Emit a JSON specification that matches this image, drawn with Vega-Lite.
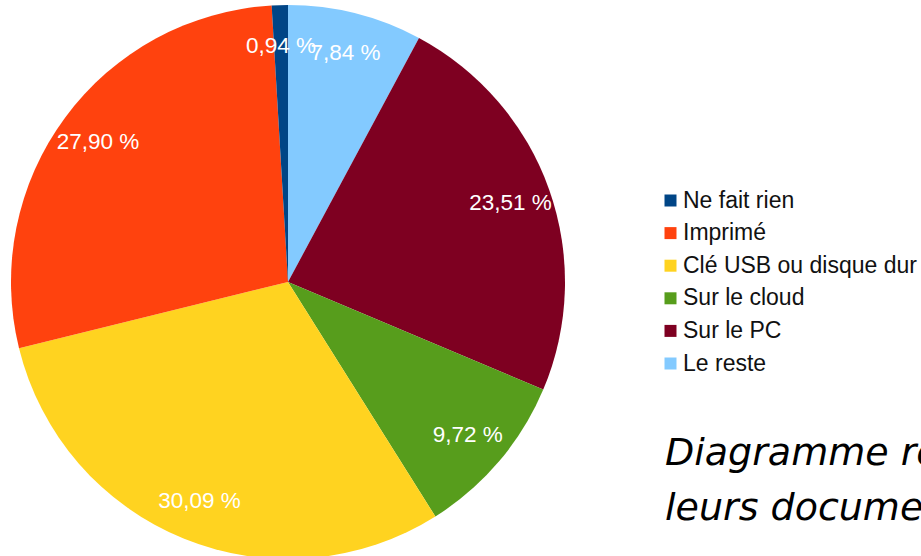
{
  "$schema": "https://vega.github.io/schema/vega-lite/v6.json",
  "width": 554,
  "height": 554,
  "autosize": {"type": "none"},
  "padding": {"left": 11, "top": 5, "right": 356, "bottom": -3},
  "background": "white",
  "config": {"view": {"stroke": null}},
  "title": {
    "text": ["Diagramme représentant où les élèves enregistrent", "leurs documents"],
    "orient": "bottom",
    "anchor": "start",
    "frame": "group",
    "baseline": "alphabetic",
    "offset": 0,
    "dx": 654,
    "dy": -94,
    "font": "DejaVu Sans",
    "fontSize": 38,
    "fontStyle": "italic",
    "fontWeight": "normal",
    "color": "#000000",
    "lineHeight": 55
  },
  "data": {
    "values": [
      {"categorie": "Le reste", "pourcentage": 7.84, "etiquette": "7,84 %", "rang": 1},
      {"categorie": "Sur le PC", "pourcentage": 23.51, "etiquette": "23,51 %", "rang": 2},
      {"categorie": "Sur le cloud", "pourcentage": 9.72, "etiquette": "9,72 %", "rang": 3},
      {"categorie": "\u00a0Clé USB ou disque dur", "pourcentage": 30.09, "etiquette": "30,09 %", "rang": 4},
      {"categorie": "Imprimé", "pourcentage": 27.90, "etiquette": "27,90 %", "rang": 5},
      {"categorie": "Ne fait rien", "pourcentage": 0.94, "etiquette": "0,94 %", "rang": 6}
    ]
  },
  "encoding": {
    "theta": {"field": "pourcentage", "type": "quantitative", "stack": true},
    "order": {"field": "rang", "type": "quantitative"}
  },
  "layer": [
    {
      "mark": {"type": "arc", "strokeWidth": 0},
      "encoding": {
        "color": {
          "field": "categorie",
          "type": "nominal",
          "scale": {
            "domain": ["Ne fait rien", "Imprimé", "\u00a0Clé USB ou disque dur", "Sur le cloud", "Sur le PC", "Le reste"],
            "range": ["#004586", "#ff420e", "#ffd320", "#579d1c", "#7e0021", "#83caff"]
          },
          "legend": {
            "title": null,
            "orient": "none",
            "legendX": 648,
            "legendY": 184,
            "padding": 0,
            "symbolType": "square",
            "symbolSize": 144,
            "symbolStrokeWidth": 0,
            "symbolOpacity": 1,
            "labelFont": "Liberation Sans",
            "labelFontSize": 23,
            "labelColor": "#111111",
            "labelOffset": 1,
            "labelLimit": 400,
            "rowPadding": 8.6
          }
        }
      }
    },
    {
      "mark": {"type": "text", "radius": 236, "font": "Liberation Sans", "fontSize": 22.5, "fill": "#ffffff"},
      "encoding": {"text": {"field": "etiquette", "type": "nominal"}}
    }
  ]
}
